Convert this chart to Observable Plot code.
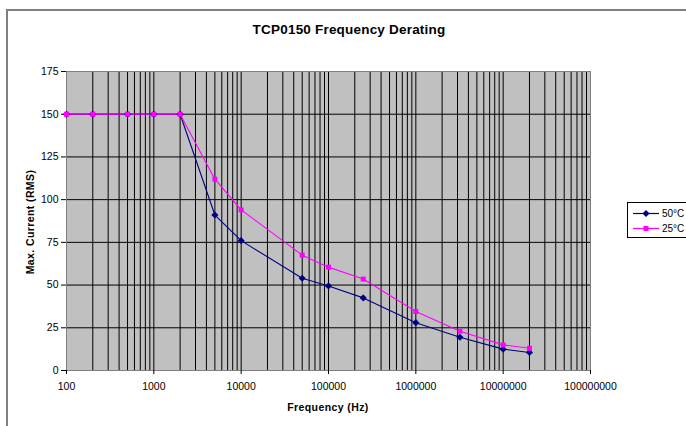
<!DOCTYPE html>
<html>
<head>
<meta charset="utf-8">
<script src="https://cdn.jsdelivr.net/npm/d3@7"></script>
<script src="https://cdn.jsdelivr.net/npm/@observablehq/plot@0.6"></script>
<style>
  html, body { margin: 0; padding: 0; background: #fff; }
  #wrap { position: relative; width: 686px; height: 426px; overflow: hidden; font-family: "Liberation Sans", Arial, sans-serif; }
  #outer { position: absolute; left: 6px; top: 9px; width: 760px; height: 500px; border: 2px solid #808080; box-sizing: border-box; }
  #title { position: absolute; left: 0; width: 698px; top: 22px; text-align: center; font-weight: bold; font-size: 13.5px; letter-spacing: 0.2px; color: #000; }
  #xlabel { position: absolute; left: 66px; width: 524px; top: 401px; text-align: center; font-weight: bold; font-size: 10.5px; letter-spacing: 0.4px; }
  #ylabel { position: absolute; left: 30px; top: 222px; transform: translate(-50%, -50%) rotate(-90deg); white-space: nowrap; font-weight: bold; font-size: 10.5px; letter-spacing: 0.4px; }
  #legend { position: absolute; left: 627px; top: 202px; width: 80px; height: 36px; border: 1px solid #000; box-sizing: border-box; background: #fff; }
  #plot { position: absolute; left: 0; top: 0; }
</style>
</head>
<body>
<div id="wrap">
  <div id="outer"></div>
  <div id="plot"></div>
  <div id="title">TCP0150 Frequency Derating</div>
  <div id="xlabel">Frequency (Hz)</div>
  <div id="ylabel">Max. Current (RMS)</div>
  <div id="legend"></div>
</div>
<script>
// ---- data ----
const frequencies = [100, 200, 500, 1000, 2000, 5000, 10000, 50000, 100000, 250000, 1000000, 3200000, 10000000, 20000000];
const current50C = [150, 150, 150, 150, 150, 91, 76, 54, 49.5, 42.5, 28, 19.5, 12.5, 10.5];
const current25C = [150, 150, 150, 150, 150, 112, 94, 67.5, 60.5, 53.5, 34.5, 23, 15, 13];
const seriesNames = ["50°C", "25°C"];
const yTicks = [0, 25, 50, 75, 100, 125, 150, 175];
const xTickLabels = [100, 1000, 10000, 100000, 1000000, 10000000, 100000000];
const gridMultipliers = [1, 2, 3, 4, 5, 6, 7, 8, 9];

// ---- build tables ----
const rows50 = frequencies.map((f, i) => ({f, c: current50C[i], s: seriesNames[0]}));
const rows25 = frequencies.map((f, i) => ({f, c: current25C[i], s: seriesNames[1]}));
const gridX = xTickLabels.slice(0, -1).flatMap(d => gridMultipliers.map(m => d * m)).concat([xTickLabels[xTickLabels.length - 1]]);

const navy = "#000080", magenta = "#ff00ff";

const chart = Plot.plot({
  width: 686,
  height: 426,
  marginLeft: 66,
  marginRight: 96,
  marginTop: 71,
  marginBottom: 56,
  style: {fontFamily: "'Liberation Sans', Arial, sans-serif", fontSize: "10.5px", color: "#000", background: "transparent", overflow: "visible"},
  x: {type: "log", domain: [100, 100000000]},
  y: {domain: [0, 175]},
  marks: [
    Plot.frame({fill: "#c0c0c0", stroke: null}),
    Plot.ruleX(gridX, {stroke: "#000", strokeWidth: 1}),
    Plot.ruleY(yTicks.filter(v => v < 175), {stroke: "#000", strokeWidth: 1}),
    Plot.frame({stroke: "#808080", strokeWidth: 1}),
    Plot.axisX({ticks: xTickLabels, tickFormat: d => String(d), tickSize: 4, tickPadding: 8, label: null}),
    Plot.axisY({ticks: yTicks, tickSize: 5, tickPadding: 3, label: null}),
    Plot.line(rows50, {x: "f", y: "c", stroke: navy, strokeWidth: 1.1}),
    Plot.line(rows25, {x: "f", y: "c", stroke: magenta, strokeWidth: 1.1}),
    Plot.dot(rows50, {x: "f", y: "c", symbol: "diamond2", r: 3.2, fill: navy, stroke: null}),
    Plot.dot(rows25, {x: "f", y: "c", symbol: "square", r: 2.8, fill: magenta, stroke: null})
  ]
});
document.getElementById("plot").appendChild(chart);

// ---- legend ----
const legend = document.getElementById("legend");
const items = [
  {name: seriesNames[0], color: navy, shape: "diamond"},
  {name: seriesNames[1], color: magenta, shape: "square"}
];
items.forEach((it, i) => {
  const row = document.createElement("div");
  row.style.cssText = "position:absolute;left:4px;top:" + (3 + i * 15) + "px;height:14px;display:flex;align-items:center;font-size:10px;";
  const marker = it.shape === "diamond"
    ? `<path d="M14,3 L17.5,6.5 L14,10 L10.5,6.5 Z" fill="${it.color}"/>`
    : `<rect x="11.5" y="4" width="5" height="5" fill="${it.color}"/>`;
  row.innerHTML = `<svg width="28" height="13" style="display:block"><line x1="1" x2="27" y1="6.5" y2="6.5" stroke="${it.color}" stroke-width="1.2"/>${marker}</svg><span style="margin-left:2px">${it.name}</span>`;
  legend.appendChild(row);
});
</script>
</body>
</html>
